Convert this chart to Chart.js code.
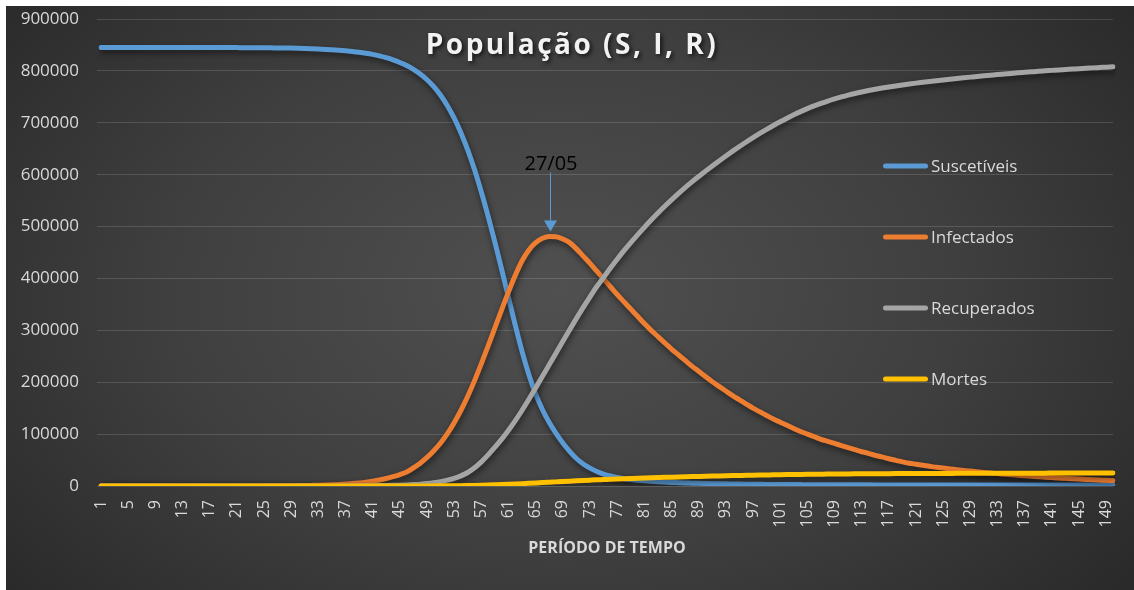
<!DOCTYPE html>
<html lang="pt-BR">
<head>
<meta charset="utf-8">
<title>População (S, I, R)</title>
<script src="https://cdn.jsdelivr.net/npm/chart.js@4.4.1/dist/chart.umd.min.js"></script>
<style>
  html, body { margin: 0; padding: 0; background: #ffffff; }
  #quadro {
    position: absolute; left: 6px; top: 6px; width: 1128px; height: 584px;
    background: radial-gradient(ellipse 720px 470px at 555px 285px, #505050 0%, #3f3f3f 55%, #2a2a2a 100%);
  }
  canvas { display: block; }
</style>
</head>
<body>
<div id="quadro"><canvas id="grafico" width="1128" height="584"></canvas></div>
<script>
// Modelo SIR - população por período de tempo

const dias = Array.from({ length: 150 }, (_, i) => String(i + 1));

const rotulosX = ['1', '5', '9', '13', '17', '21', '25', '29', '33', '37', '41', '45', '49',
  '53', '57', '61', '65', '69', '73', '77', '81', '85', '89', '93', '97', '101', '105',
  '109', '113', '117', '121', '125', '129', '133', '137', '141', '145', '149'];

const suscetiveis = [
  844999, 844999, 844998, 844998, 844997, 844997, 844996, 844995, 844994, 844991,
  844989, 844987, 844984, 844980, 844974, 844968, 844959, 844949, 844936, 844900,
  844850, 844800, 844700, 844600, 844500, 844400, 844250, 844100, 843900, 843600,
  843200, 842700, 842100, 841400, 840600, 839700, 838600, 837300, 835800, 834000,
  831800, 829000, 825500, 821300, 816300, 810300, 803000, 794000, 783000, 769500,
  753000, 733000, 709000, 680500, 647500, 609500, 566500, 519500, 469500, 417000,
  363000, 309500, 259000, 214500, 177000, 147000, 122300, 101300, 82700, 66600,
  53000, 42500, 34500, 28000, 23000, 19300, 16400, 14100, 12300, 11000,
  9900, 9000, 8200, 7500, 6900, 6400, 5900, 5500, 5100, 4800,
  4500, 4300, 4100, 3900, 3700, 3550, 3400, 3250, 3100, 3000,
  2900, 2820, 2740, 2670, 2600, 2540, 2480, 2430, 2380, 2330,
  2290, 2250, 2210, 2180, 2150, 2120, 2090, 2060, 2040, 2020,
  2000, 1980, 1960, 1945, 1930, 1915, 1900, 1888, 1876, 1865,
  1854, 1844, 1834, 1825, 1816, 1808, 1800, 1793, 1786, 1779,
  1773, 1767, 1761, 1756, 1751, 1746, 1741, 1737, 1733, 1729
];

const infectados = [
  1, 1, 2, 2, 3, 3, 4, 5, 6, 8,
  10, 12, 15, 19, 24, 30, 38, 48, 60, 76,
  95, 120, 150, 190, 240, 300, 380, 480, 600, 760,
  950, 1200, 1500, 1900, 2400, 3000, 3800, 4700, 5900, 7400,
  9300, 11600, 14500, 18000, 22000, 27000, 35000, 44000, 55000, 68000,
  83000, 101000, 122000, 146000, 173000, 203000, 236000, 270000, 305000, 340000,
  374000, 406000, 434000, 455000, 469000, 477500, 481000, 480500, 476000, 469000,
  457000, 443000, 429000, 414000, 399000, 384000, 369000, 355000, 341000, 327000,
  313000, 300000, 288000, 276000, 264000, 253000, 242000, 231000, 221000, 211000,
  201000, 192000, 183000, 174000, 166000, 158000, 150000, 143000, 136000, 129000,
  123000, 117000, 111000, 105000, 100000, 95000, 90000, 86000, 82000, 78000,
  74000, 70000, 66000, 63000, 59000, 56000, 52500, 49500, 46500, 44000,
  42000, 40000, 38000, 36000, 34500, 33000, 31500, 30000, 28700, 27400,
  26200, 25000, 23900, 22800, 21700, 20700, 19700, 18800, 17900, 17000,
  16200, 15400, 14700, 14000, 13300, 12700, 12100, 11500, 11000, 10400
];

const recuperados = [
  0, 0, 0, 0, 0, 0, 0, 0, 0, 1,
  1, 1, 1, 1, 2, 2, 3, 3, 4, 5,
  7, 8, 11, 13, 17, 21, 27, 34, 42, 53,
  67, 84, 105, 133, 168, 210, 266, 329, 413, 518,
  651, 812, 1015, 1260, 1540, 2000, 2700, 3600, 4800, 6400,
  8500, 11200, 14700, 19500, 26000, 35000, 46500, 60000, 74800, 90300,
  107300, 125950, 146000, 167150, 189050, 211400, 233950, 256550, 279050, 301250,
  323000, 344150, 364650, 384500, 402000, 420000, 437000, 453500, 469000, 484000,
  498500, 512500, 526000, 539000, 551500, 563500, 575000, 586000, 596500, 606800,
  616800, 626500, 636000, 645300, 654300, 663000, 671400, 679500, 687300, 694800,
  702000, 708900, 715400, 721500, 727200, 732500, 737400, 741900, 746000, 749800,
  753300, 756500, 759400, 762100, 764600, 766900, 769000, 771000, 772900, 774700,
  776400, 778000, 779600, 781100, 782600, 784000, 785400, 786700, 788000, 789300,
  790500, 791700, 792900, 794000, 795100, 796200, 797200, 798200, 799200, 800100,
  801000, 801900, 802700, 803500, 804300, 805000, 805800, 806500, 807200, 807900
];

const mortes = [
  0, 0, 0, 0, 0, 0, 0, 0, 0, 0,
  0, 0, 0, 0, 0, 0, 0, 0, 0, 0,
  0, 0, 0, 0, 1, 1, 1, 1, 1, 2,
  2, 3, 3, 4, 5, 7, 8, 10, 13, 16,
  20, 25, 31, 39, 48, 62, 84, 112, 149, 198,
  264, 347, 456, 605, 806, 1085, 1442, 1860, 2319, 2799,
  3326, 3904, 4526, 5182, 5861, 6553, 7252, 7953, 8651, 9339,
  10013, 10669, 11304, 11920, 12462, 13020, 13547, 14059, 14539, 15004,
  15454, 15888, 16306, 16709, 17097, 17469, 17825, 18166, 18492, 18811,
  19121, 19422, 19716, 20004, 20283, 20553, 20813, 21065, 21306, 21539,
  21762, 21976, 22177, 22367, 22543, 22708, 22859, 22999, 23126, 23244,
  23352, 23452, 23541, 23625, 23703, 23774, 23839, 23901, 23960, 24016,
  24068, 24118, 24168, 24214, 24261, 24304, 24347, 24388, 24428, 24468,
  24506, 24543, 24580, 24614, 24648, 24682, 24713, 24744, 24775, 24803,
  24831, 24859, 24884, 24909, 24933, 24955, 24980, 25002, 25023, 25045
];

const fonte = '"Open Sans", "Noto Sans", sans-serif';
const corTexto = '#d9d9d9';

// sombra por baixo das linhas (como no Excel)
const sombraLinhas = {
  id: 'sombraLinhas',
  beforeDatasetsDraw(chart) {
    const c = chart.ctx;
    c.save();
    c.shadowColor = 'rgba(0,0,0,0.55)';
    c.shadowBlur = 6;
    c.shadowOffsetX = 1;
    c.shadowOffsetY = 3;
  },
  afterDatasetsDraw(chart) {
    chart.ctx.restore();
  }
};

// seta com a data do pico de infectados
const anotacaoPico = {
  id: 'anotacaoPico',
  afterDatasetsDraw(chart) {
    const iPico = infectados.indexOf(Math.max(...infectados));
    const x = Math.round(chart.scales.x.getPixelForValue(iPico)) + 1;
    const ponta = chart.scales.y.getPixelForValue(infectados[iPico]) - 5;
    const c = chart.ctx;
    c.save();
    c.strokeStyle = '#5b9bd5';
    c.fillStyle = '#5b9bd5';
    c.lineWidth = 1;
    c.beginPath();
    c.moveTo(x + 0.5, ponta - 59);
    c.lineTo(x + 0.5, ponta - 10);
    c.stroke();
    c.beginPath();
    c.moveTo(x - 6, ponta - 11);
    c.lineTo(x + 7, ponta - 11);
    c.lineTo(x + 0.5, ponta);
    c.closePath();
    c.fill();
    c.font = `20px ${fonte}`;
    c.fillStyle = '#000000';
    c.textAlign = 'center';
    c.textBaseline = 'alphabetic';
    c.fillText('27/05', x + 1, ponta - 61);
    c.restore();
  }
};

// título por cima da área do gráfico
const tituloSIR = {
  id: 'tituloSIR',
  afterDraw(chart) {
    const c = chart.ctx;
    c.save();
    c.font = `bold 28px ${fonte}`;
    c.letterSpacing = '2.5px';
    c.fillStyle = '#f2f2f2';
    c.textAlign = 'center';
    c.textBaseline = 'alphabetic';
    c.shadowColor = 'rgba(0,0,0,0.7)';
    c.shadowBlur = 4;
    c.shadowOffsetX = 2;
    c.shadowOffsetY = 2;
    c.fillText('População (S, I, R)', 566, 48);
    c.restore();
  }
};

// legenda à direita, dentro da área
const legendaLateral = {
  id: 'legendaLateral',
  afterDraw(chart) {
    const c = chart.ctx;
    c.save();
    c.font = `17px ${fonte}`;
    c.textBaseline = 'middle';
    c.textAlign = 'left';
    chart.data.datasets.forEach((ds, i) => {
      const y = 160 + i * 71;
      c.strokeStyle = ds.borderColor;
      c.lineWidth = 5;
      c.lineCap = 'round';
      c.beginPath();
      c.moveTo(879.5, y);
      c.lineTo(919.5, y);
      c.stroke();
      c.fillStyle = corTexto;
      c.fillText(ds.label, 925, y + 1);
    });
    c.restore();
  }
};

function serie(label, data, cor, ordem) {
  return {
    label,
    data,
    borderColor: cor,
    backgroundColor: cor,
    borderWidth: 5,
    pointRadius: 0,
    tension: 0.3,
    cubicInterpolationMode: 'monotone',
    borderCapStyle: 'round',
    borderJoinStyle: 'round',
    fill: false,
    order: ordem
  };
}

new Chart(document.getElementById('grafico'), {
  type: 'line',
  data: {
    labels: dias,
    datasets: [
      serie('Suscetíveis', suscetiveis, '#5b9bd5', 4),
      serie('Infectados', infectados, '#ed7d31', 3),
      serie('Recuperados', recuperados, '#a5a5a5', 2),
      serie('Mortes', mortes, '#ffc000', 1)
    ]
  },
  options: {
    responsive: false,
    animation: false,
    events: [],
    layout: { padding: { top: 13, right: 21, bottom: 0, left: 0 } },
    plugins: {
      legend: { display: false },
      tooltip: { enabled: false },
      title: { display: false }
    },
    scales: {
      x: {
        type: 'category',
        offset: false,
        grid: { display: false, drawTicks: false },
        border: { display: false },
        ticks: {
          autoSkip: false,
          minRotation: 90,
          maxRotation: 90,
          padding: 14,
          color: corTexto,
          font: { family: fonte, size: 16 },
          callback(v) {
            const l = this.getLabelForValue(v);
            return rotulosX.includes(l) ? l : '';
          }
        },
        title: {
          display: true,
          text: 'PERÍODO DE TEMPO',
          color: corTexto,
          font: { family: fonte, size: 16, weight: 'bold' },
          padding: { top: 0, bottom: 32 }
        },
        afterFit(s) {
          s.height = 104;
          s.paddingLeft = 0;
          s.paddingRight = 0;
        }
      },
      y: {
        min: 0,
        max: 900000,
        grid: { color: 'rgba(255,255,255,0.14)', lineWidth: 1, drawTicks: true, tickLength: 4 },
        border: { display: false },
        ticks: {
          stepSize: 100000,
          padding: 18,
          color: corTexto,
          font: { family: fonte, size: 17 },
          callback: v => String(v)
        },
        afterFit(s) {
          s.width = 95;
          s.paddingTop = 10;
          s.paddingBottom = 10;
        }
      }
    }
  },
  plugins: [sombraLinhas, anotacaoPico, tituloSIR, legendaLateral]
});
</script>
</body>
</html>
